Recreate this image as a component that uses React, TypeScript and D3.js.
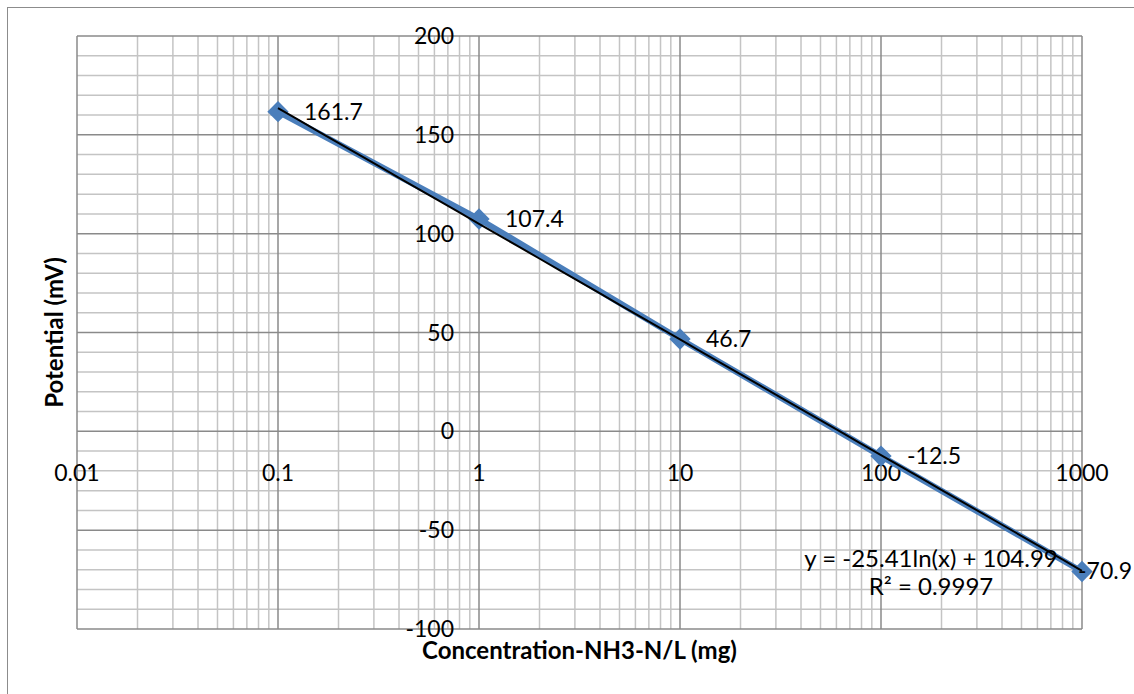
import React, { useEffect, useRef } from "react";
import * as d3 from "d3";

// measured data
const concentrations = [0.1, 1, 10, 100, 1000];
const potentials = [161.7, 107.4, 46.7, -12.5, -70.9];
const xTicks = [0.01, 0.1, 1, 10, 100, 1000];
const xTickLabels = ["0.01", "0.1", "1", "10", "100", "1000"];
const yTicks = [-100, -50, 0, 50, 100, 150, 200];
// trend line y = a ln(x) + b
const trendA = -25.41;
const trendB = 104.99;
const trendText = ["y = -25.41ln(x) + 104.99", "R² = 0.9997"];

const W = 1134;
const H = 694;
const font = "Lato, 'Open Sans', sans-serif";

export default function App() {
  const ref = useRef<SVGSVGElement>(null);

  useEffect(() => {
    const svg = d3.select(ref.current);
    svg.selectAll("*").remove();

    const left = 77, right = 1082, top = 36, bottom = 629;
    const x = d3.scaleLog().domain([0.01, 1000]).range([left, right]);
    const y = d3.scaleLinear().domain([-100, 200]).range([bottom, top]);

    // chart border
    svg.append("rect")
      .attr("x", 7.5).attr("y", 7.5)
      .attr("width", W).attr("height", H)
      .attr("fill", "white")
      .attr("stroke", "#8c8c8c")
      .attr("stroke-width", 1);

    const grid = svg.append("g");

    // minor horizontal lines every 10
    const yMinor = d3.range(-100, 201, 10).filter((v) => v % 50 !== 0);
    grid.selectAll(".hmin")
      .data(yMinor)
      .enter()
      .append("line")
      .attr("x1", left).attr("x2", right)
      .attr("y1", (d) => y(d)).attr("y2", (d) => y(d))
      .attr("stroke", "#c4c4c4")
      .attr("stroke-width", 1.5);

    // minor vertical lines (2..9 per decade)
    const xMinor: number[] = [];
    for (let e = -2; e < 3; e++) {
      for (let k = 2; k <= 9; k++) xMinor.push(k * Math.pow(10, e));
    }
    grid.selectAll(".vmin")
      .data(xMinor)
      .enter()
      .append("line")
      .attr("x1", (d) => x(d)).attr("x2", (d) => x(d))
      .attr("y1", top).attr("y2", bottom)
      .attr("stroke", "#c4c4c4")
      .attr("stroke-width", 1.5);

    // major lines
    grid.selectAll(".hmaj")
      .data(yTicks)
      .enter()
      .append("line")
      .attr("x1", left).attr("x2", right)
      .attr("y1", (d) => y(d)).attr("y2", (d) => y(d))
      .attr("stroke", "#8a8a8a")
      .attr("stroke-width", 1.5);

    grid.selectAll(".vmaj")
      .data(xTicks)
      .enter()
      .append("line")
      .attr("x1", (d) => x(d)).attr("x2", (d) => x(d))
      .attr("y1", top).attr("y2", bottom)
      .attr("stroke", "#8a8a8a")
      .attr("stroke-width", 1.5);

    // axis tick labels
    svg.append("g")
      .selectAll("text")
      .data(yTicks)
      .enter()
      .append("text")
      .attr("x", x(1) - 25)
      .attr("y", (d) => y(d) + 8)
      .attr("text-anchor", "end")
      .attr("font-family", font)
      .attr("font-size", 23)
      .attr("fill", "#000")
      .text((d) => String(d));

    svg.append("g")
      .selectAll("text")
      .data(xTicks)
      .enter()
      .append("text")
      .attr("x", (d) => x(d))
      .attr("y", y(0) + 50)
      .attr("text-anchor", "middle")
      .attr("font-family", font)
      .attr("font-size", 23)
      .attr("fill", "#000")
      .text((d, i) => xTickLabels[i]);

    // series line
    const pts = concentrations.map((c, i) => [c, potentials[i]] as [number, number]);
    const line = d3.line<[number, number]>()
      .x((d) => x(d[0]))
      .y((d) => y(d[1]));

    svg.append("path")
      .datum(pts)
      .attr("d", line)
      .attr("fill", "none")
      .attr("stroke", "#4a7ebb")
      .attr("stroke-width", 6)
      .attr("stroke-linejoin", "round");

    // markers
    svg.append("g")
      .selectAll("path")
      .data(pts)
      .enter()
      .append("path")
      .attr("d", d3.symbol(d3.symbolDiamond2, 290) as any)
      .attr("transform", (d) => `translate(${x(d[0])},${y(d[1])})`)
      .attr("fill", "#4a7ebb");

    // trend line
    const trendXs = d3.range(0, 41).map((i) => Math.pow(10, -1 + i / 10));
    svg.append("path")
      .datum(trendXs.map((c) => [c, trendA * Math.log(c) + trendB] as [number, number]))
      .attr("d", line)
      .attr("fill", "none")
      .attr("stroke", "#000")
      .attr("stroke-width", 2);

    // data labels
    svg.append("g")
      .selectAll("text")
      .data(pts)
      .enter()
      .append("text")
      .attr("x", (d) => Math.min(x(d[0]) + 26, 1078))
      .attr("y", (d) => y(d[1]) + 8)
      .attr("font-family", font)
      .attr("font-size", 23)
      .attr("fill", "#000")
      .text((d) => String(d[1]));

    // trend equation
    svg.append("g")
      .selectAll("text")
      .data(trendText)
      .enter()
      .append("text")
      .attr("x", 931)
      .attr("y", (d, i) => 567 + i * 28)
      .attr("text-anchor", "middle")
      .attr("font-family", font)
      .attr("font-size", 24)
      .attr("fill", "#000")
      .text((d) => d);

    // axis titles
    svg.append("text")
      .attr("x", (left + right) / 2)
      .attr("y", 659)
      .attr("text-anchor", "middle")
      .attr("font-family", font)
      .attr("font-weight", "bold")
      .attr("font-size", 24)
      .text("Concentration-NH3-N/L (mg)");

    svg.append("text")
      .attr("transform", `translate(63,${(top + bottom) / 2}) rotate(-90)`)
      .attr("text-anchor", "middle")
      .attr("font-family", font)
      .attr("font-weight", "bold")
      .attr("font-size", 24)
      .text("Potential (mV)");
  }, []);

  return (
    <svg
      ref={ref}
      width={W}
      height={H}
      style={{ position: "absolute", left: 0, top: 0, background: "white" }}
    />
  );
}
